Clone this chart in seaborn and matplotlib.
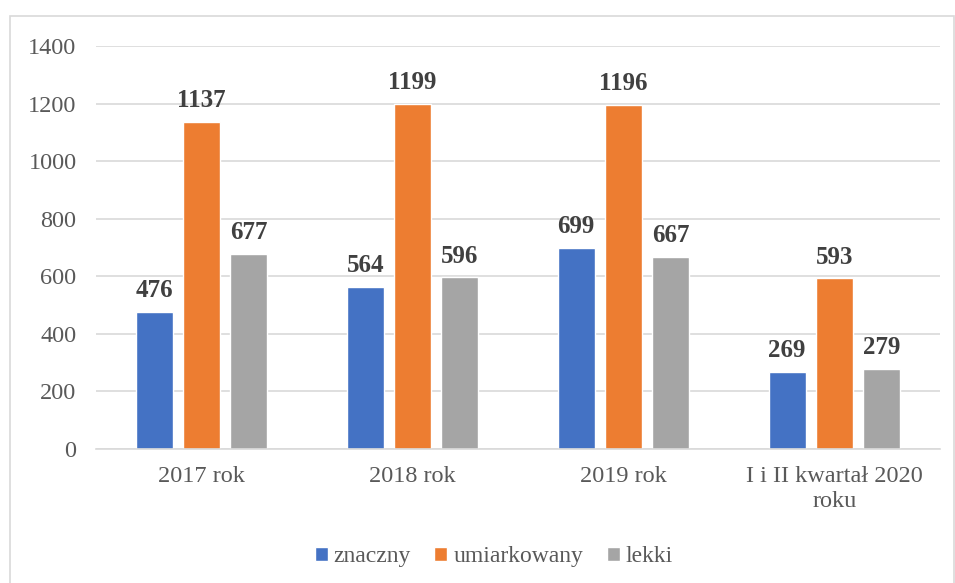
import matplotlib
matplotlib.use("Agg")
import matplotlib.pyplot as plt
import pandas as pd
import seaborn as sns
from matplotlib.patches import Rectangle

categories = ["2017 rok", "2018 rok", "2019 rok", "I i II kwartał 2020\nroku"]
series_names = ["znaczny", "umiarkowany", "lekki"]
znaczny = [476, 564, 699, 269]
umiarkowany = [1137, 1199, 1196, 593]
lekki = [677, 596, 667, 279]
colors = ["#4472C4", "#ED7D31", "#A5A5A5"]
y_ticks = [0, 200, 400, 600, 800, 1000, 1200, 1400]


def main():
    sns.set_theme(style="white")
    plt.rcParams["font.family"] = ["Liberation Serif", "DejaVu Serif"]

    df = pd.DataFrame({
        "kategoria": categories * 3,
        "seria": [s for s in series_names for _ in categories],
        "wartosc": znaczny + umiarkowany + lekki,
    })

    fig = plt.figure(figsize=(9.55, 5.83), dpi=100)
    ax = fig.add_axes([0.1005, 0.2298, 0.8835, 0.6912])

    sns.barplot(
        data=df, x="kategoria", y="wartosc", hue="seria",
        order=categories, hue_order=series_names, palette=colors,
        width=0.67, gap=0.21, saturation=1, ax=ax, legend=True,
    )

    for cont in ax.containers:
        ax.bar_label(cont, fmt="%d", padding=7, fontsize=18, fontweight="bold", color="#404040")

    ax.set_ylim(0, 1400)
    ax.set_yticks(y_ticks)
    ax.yaxis.grid(True, color="#d9d9d9", linewidth=1.2)
    ax.set_axisbelow(True)
    for side in ["top", "right", "left"]:
        ax.spines[side].set_visible(False)
    ax.spines["bottom"].set_color("#d9d9d9")
    ax.spines["bottom"].set_linewidth(1.2)
    ax.tick_params(axis="both", length=0, labelsize=17.5, labelcolor="#595959")
    ax.tick_params(axis="y", pad=14)
    ax.tick_params(axis="x", pad=12)
    for lbl in ax.get_xticklabels():
        lbl.set_linespacing(1.3)
    ax.set_xlabel("")
    ax.set_ylabel("")

    handles, labels = ax.get_legend_handles_labels()
    ax.get_legend().remove()
    fig.legend(
        handles, labels, loc="center", bbox_to_anchor=(0.517, 0.045), ncol=3,
        frameon=False, fontsize=17, handlelength=0.55, handleheight=0.55,
        handletextpad=0.25, columnspacing=1.0, labelcolor="#595959",
    )

    fig.patches.append(Rectangle(
        (10 / 955, -0.01), 944 / 955, 1 - 16 / 583 + 0.01,
        transform=fig.transFigure, fill=False, edgecolor="#d9d9d9", linewidth=1.2,
    ))

    fig.savefig("out.png", dpi=100)
    plt.close(fig)


if __name__ == "__main__":
    main()
